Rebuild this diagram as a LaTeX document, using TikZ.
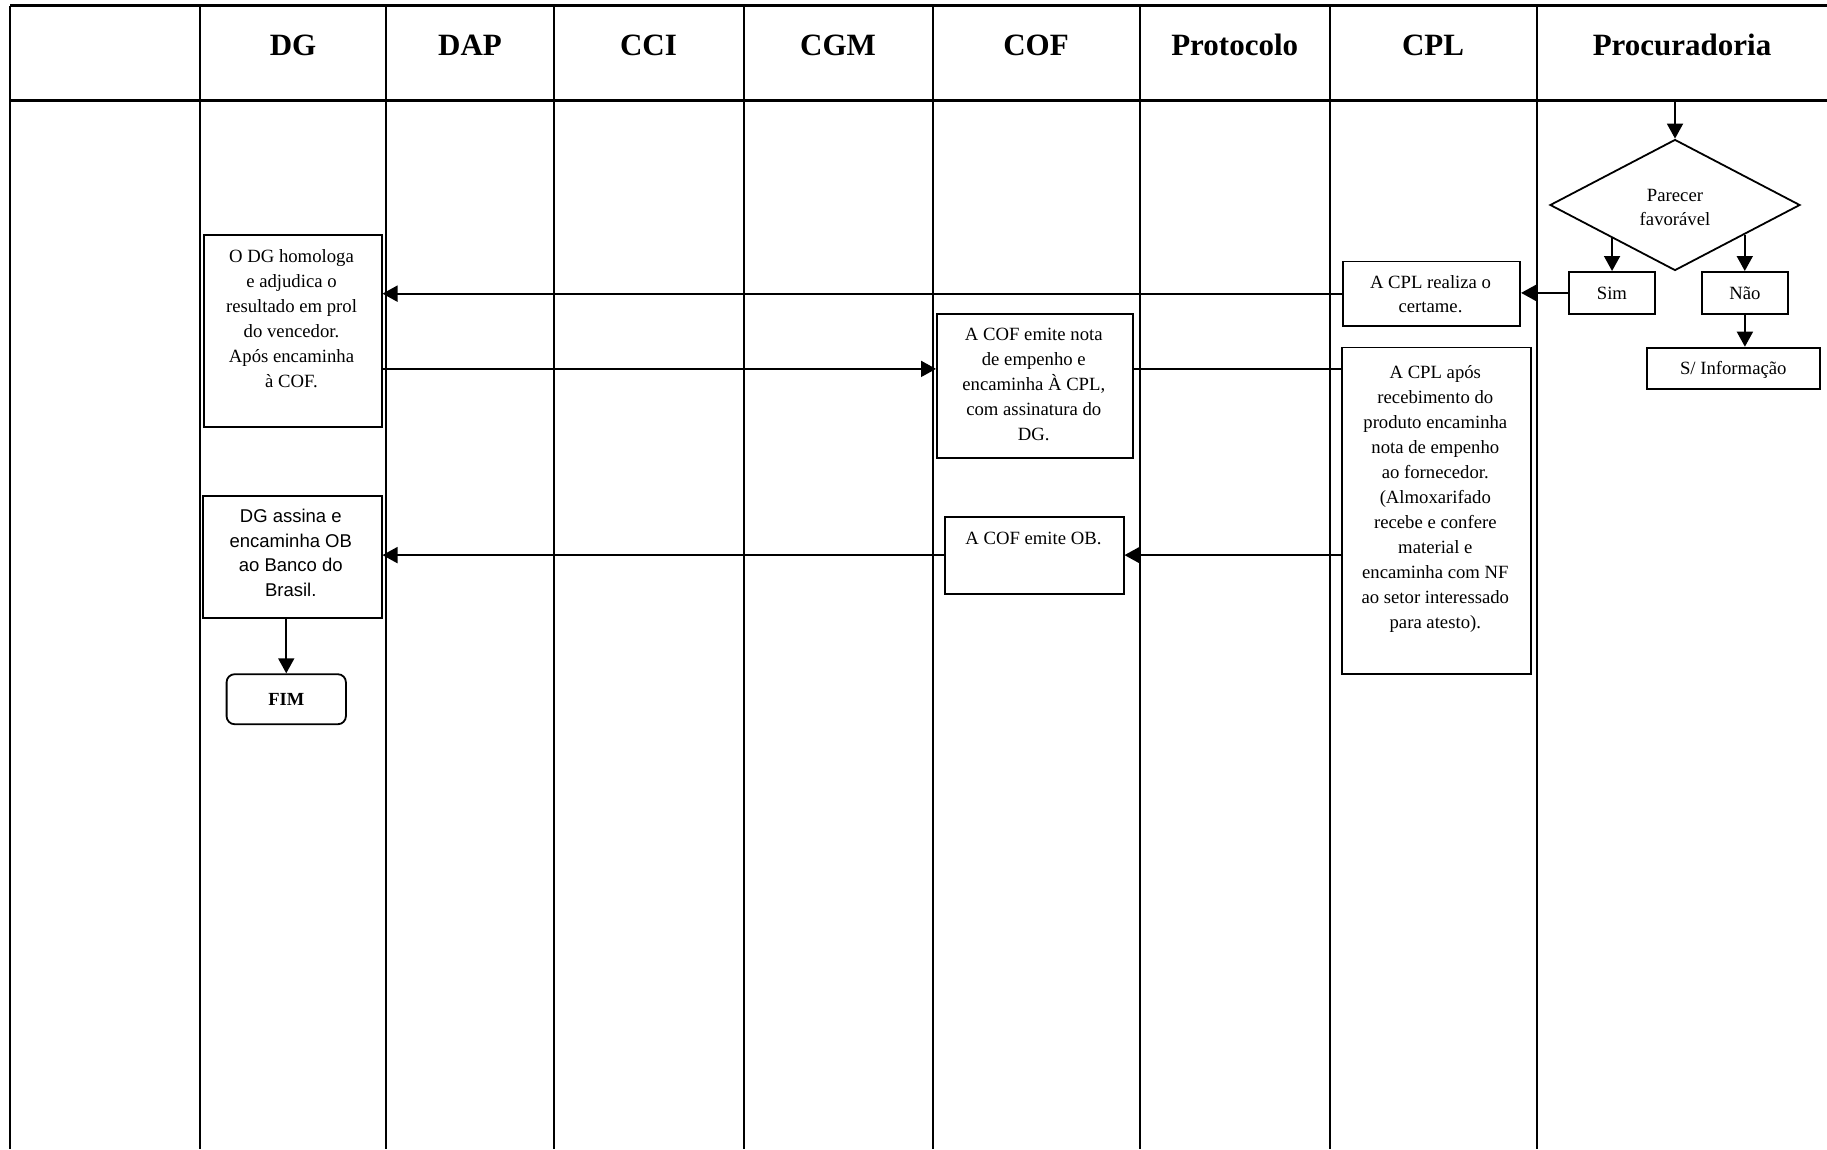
\documentclass[tikz,border=0pt]{standalone}
\usepackage{fontspec}
\setmainfont{Liberation Serif}
\newfontfamily\arialfont{Liberation Sans}
\usetikzlibrary{shapes.geometric,arrows.meta}

\begin{document}
\begin{tikzpicture}[x=1pt,y=1pt,
  lane/.style={line width=2pt},
  rule/.style={line width=2.6pt},
  flowbox/.style={draw, fill=white, line width=1.8pt, rectangle, inner sep=0pt, anchor=north west},
  boxtext/.style={inner sep=0pt, anchor=north, align=center, font=\fontsize{18.7}{25}\selectfont},
  smalltext/.style={font=\fontsize{18.7}{25}\selectfont, text height=12.4pt, text depth=0pt},
  head/.style={anchor=base, inner sep=0pt, font=\fontsize{31}{36}\selectfont\bfseries},
  flow/.style={line width=1.8pt, -{Triangle[length=15pt,width=16pt]}},
  link/.style={line width=1.8pt},
]
\useasboundingbox (0,0) rectangle (1827,-1149);

% swimlane grid
\draw[rule] (10,-5.7) -- (1827,-5.7);
\draw[rule] (10,-100.7) -- (1827,-100.7);
\foreach \xl in {10,200,386,553.5,743.5,932.5,1140,1329.5,1537}
  \draw[lane] (\xl,-5.7) -- (\xl,-1149);

% lane titles
\node[head] (h1) at (293,-55) {DG};
\node[head] (h2) at (470,-55) {DAP};
\node[head] (h3) at (648.5,-55) {CCI};
\node[head] (h4) at (838,-55) {CGM};
\node[head] (h5) at (1036,-55) {COF};
\node[head] (h6) at (1234.7,-55) {Protocolo};
\node[head] (h7) at (1433,-55) {CPL};
\node[head] (h8) at (1682,-55) {Procuradoria};

% Procuradoria
\node[draw, fill=white, diamond, line width=1.8pt, inner sep=0pt,
      minimum width=250pt, minimum height=131pt] (dia) at (1675,-205) {};
\node[boxtext, font=\fontsize{18.7}{24}\selectfont] (diat) at (1675,-184.2) {\strut Parecer\\favorável};
\node[flowbox, minimum width=86pt, minimum height=42pt, smalltext] (sim) at (1568,-271) {Sim};
\node[flowbox, minimum width=86pt, minimum height=42pt, smalltext] (nao) at (1701,-271) {Não};
\node[flowbox, minimum width=173.3pt, minimum height=41.6pt, smalltext] (sinfo) at (1645.7,-346.7) {S/ Informação};

% CPL
\node[flowbox, minimum width=177.6pt, minimum height=64.5pt] (cpl1) at (1341.7,-260.5) {};
\node[boxtext, font=\fontsize{18.7}{24.4}\selectfont] (cpl1t) at (1430.5,-271.2) {\strut A CPL realiza o\\certame.};
\node[flowbox, minimum width=189.3pt, minimum height=326.5pt] (cpl2) at (1340.7,-346.5) {};
\node[boxtext] (cpl2t) at (1435.3,-360.8) {\strut A CPL após\\recebimento do\\produto encaminha\\nota de empenho\\ao fornecedor.\\(Almoxarifado\\recebe e confere\\material e\\encaminha com NF\\ao setor interessado\\para atesto).};

% COF
\node[flowbox, minimum width=195.7pt, minimum height=144pt] (cof1) at (936,-312.7) {};
\node[boxtext] (cof1t) at (1033.8,-322.5) {\strut A COF emite nota\\de empenho e\\encaminha À CPL,\\com assinatura do\\DG.};
\node[flowbox, minimum width=178.7pt, minimum height=77pt] (cof2) at (944,-515.7) {};
\node[boxtext] (cof2t) at (1033.4,-526.5) {\strut A COF emite OB.};

% DG
\node[flowbox, minimum width=178pt, minimum height=192pt] (dg1) at (202.7,-234) {};
\node[boxtext] (dg1t) at (291.5,-245.2) {\strut O DG homologa\\e adjudica o\\resultado em prol\\do vencedor.\\Após encaminha\\à COF.};
\node[flowbox, minimum width=179pt, minimum height=121.7pt] (dg2) at (201.7,-495) {};
\node[boxtext, font=\arialfont\fontsize{18.5}{24.5}\selectfont] (dg2t) at (290.8,-505.5) {\strut DG assina e\\encaminha OB\\ao Banco do\\Brasil.};
\node[flowbox, rounded corners=8pt, minimum width=119.3pt, minimum height=50pt,
      smalltext, font=\fontsize{18.5}{25}\selectfont\bfseries] (fim) at (225.7,-673.3) {FIM};

% connectors
\coordinate (pin) at (1675,-100.7);
\draw[flow] (pin) -- (dia.north);
\draw[flow] (dia.south west) -- (dia.south west |- sim.north);
\draw[flow] (dia.-23.2) -- (dia.-23.2 |- nao.north);
\draw[flow] (nao.south) -- (nao.south |- sinfo.north);
\draw[flow] (sim.west) -- (sim.west -| cpl1.east);
\draw[flow] (cpl1.west) -- (cpl1.west -| dg1.east);
\draw[flow] ([yshift=16.7pt]cof1.west -| dg1.east) -- ([yshift=16.7pt]cof1.west);
\draw[link] ([yshift=16.7pt]cof1.east) -- ([yshift=16.7pt]cof1.east -| cpl2.west);
\draw[flow] (cof2.east -| cpl2.west) -- (cof2.east);
\draw[flow] (cof2.west) -- (cof2.west -| dg2.east);
\draw[flow] (dg2.south -| fim.north) -- (fim.north);
\end{tikzpicture}
\end{document}
